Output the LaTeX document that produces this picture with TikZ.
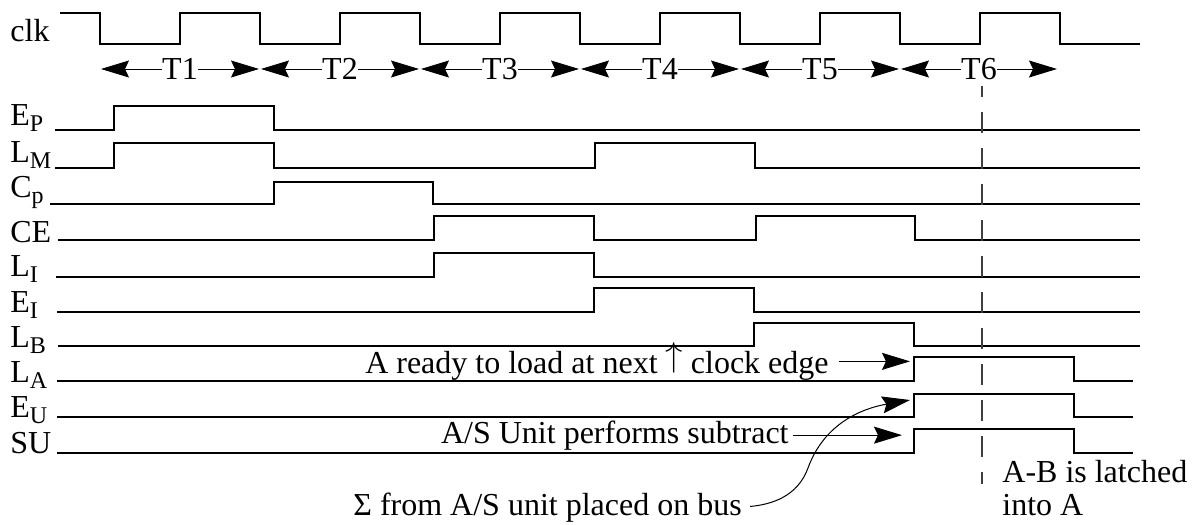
\documentclass[tikz,border=0pt]{standalone}
\usepackage{fontspec}
\setmainfont{Liberation Serif}
\usepackage{tikz}
\usetikzlibrary{arrows.meta, calc}

\newcommand{\lowsub}[1]{\raisebox{-3pt}{\fontsize{12}{12}\selectfont #1}}
\newcommand{\montee}{\raisebox{3.1pt}{$\uparrow$}}

\begin{document}
\begin{tikzpicture}[
  x=0.5pt, y=-0.5pt,
  font=\fontsize{16}{19}\selectfont,
  onde/.style={line width=0.7pt, line join=miter},
  nom/.style={anchor=base west, inner sep=0pt},
  note/.style={inner sep=0pt},
  fleche/.style={
    arrows={-Stealth[length=14pt, width=8.5pt, inset=2pt]},
    line width=0.5pt
  },
  periode/.style={
    arrows={Stealth[length=14pt, width=8.5pt, inset=2pt]-Stealth[length=14pt, width=8.5pt, inset=2pt]},
    line width=0.5pt, shorten <=0.5pt, shorten >=0.5pt
  },
  tlab/.style={fill=white, inner xsep=0pt, inner ysep=1pt},
  repere/.style={line width=0.6pt, draw=black!75,
    dash pattern=on 10.5pt off 7.5pt, dash phase=5pt}
]
\useasboundingbox (0,0) rectangle (1196,525);

% ----- Noms des signaux -----
\node[nom] (clk) at (10,41) {clk};
\node[nom] (ep) at (10,125) {E\lowsub{P}};
\node[nom] (lm) at (10,162) {L\lowsub{M}};
\node[nom] (cp) at (10,197) {C\lowsub{p}};
\node[nom] (ce) at (10,242) {CE};
\node[nom] (li) at (10,276) {L\lowsub{I}};
\node[nom] (ei) at (10,312) {E\lowsub{I}};
\node[nom] (lb) at (10,347) {L\lowsub{B}};
\node[nom] (la) at (10,382) {L\lowsub{A}};
\node[nom] (eu) at (10,417) {E\lowsub{U}};
\node[nom] (su) at (10,453) {SU};

% ----- Horloge -----
\draw[onde] (60,13) -- (100,13) -- (100,44) -- (180,44) -- (180,13)
  -- (260,13) -- (260,44) -- (340,44) -- (340,13)
  -- (420,13) -- (420,44) -- (500,44) -- (500,13)
  -- (580,13) -- (580,44) -- (660,44) -- (660,13)
  -- (740,13) -- (740,44) -- (820,44) -- (820,13)
  -- (900,13) -- (900,44) -- (980,44) -- (980,13)
  -- (1060,13) -- (1060,44) -- (1140,44);

% ----- Etats T1 a T6 -----
\coordinate (t0) at (100,69);
\coordinate (t1) at (260,69);
\coordinate (t2) at (420,69);
\coordinate (t3) at (580,69);
\coordinate (t4) at (740,69);
\coordinate (t5) at (900,69);
\coordinate (t6) at (1058,69);

\draw[periode] (t0) -- node[tlab] {T1} (t1);
\draw[periode] (t1) -- node[tlab] {T2} (t2);
\draw[periode] (t2) -- node[tlab] {T3} (t3);
\draw[periode] (t3) -- node[tlab] {T4} (t4);
\draw[periode] (t4) -- node[tlab] {T5} (t5);
\draw[periode] (t5) -- node[tlab] {T6} (t6);

% ----- Signaux de commande -----
\draw[onde] (55,130) -- (114,130) -- (114,106) -- (274,106) -- (274,130) -- (1140,130);
\draw[onde] (55,168) -- (114,168) -- (114,143) -- (274,143) -- (274,168)
  -- (595,168) -- (595,143) -- (755,143) -- (755,168) -- (1140,168);
\draw[onde] (50,204) -- (274,204) -- (274,182) -- (433,182) -- (433,204) -- (1140,204);
\draw[onde] (58,240) -- (434,240) -- (434,216) -- (594,216) -- (594,240)
  -- (756,240) -- (756,216) -- (915,216) -- (915,240) -- (1140,240);
\draw[onde] (56,277) -- (434,277) -- (434,253) -- (594,253) -- (594,277) -- (1140,277);
\draw[onde] (57,312) -- (594,312) -- (594,288) -- (754,288) -- (754,312) -- (1140,312);
\draw[onde] (58,346) -- (754,346) -- (754,323) -- (914,323) -- (914,346) -- (1140,346);
\draw[onde] (57,381) -- (914,381) -- (914,357) -- (1074,357) -- (1074,381) -- (1133,381);
\draw[onde] (57,417) -- (914,417) -- (914,394) -- (1074,394) -- (1074,417) -- (1133,417);
\draw[onde] (57,453) -- (914,453) -- (914,429) -- (1074,429) -- (1074,453) -- (1133,453);

% ----- Front de chargement -----
\coordinate (dhaut) at (982,86);
\coordinate (dbas) at (982,484);
\draw[repere] (dhaut) -- (dbas);

% ----- Annotations -----
\node[note, anchor=base east] (pret) at (829,373) {A ready to load at next \montee{} clock edge};
\node[note, anchor=base east] (soustr) at (789,443) {A/S Unit performs subtract};
\node[note, anchor=base west] (somme) at (353,515) {Σ from A/S unit placed on bus};
\node[note, anchor=north west, align=left, font=\fontsize{16}{16.5}\selectfont]
  (verrou) at (1002,460) {A-B is latched\\into A};

\coordinate (lapointe) at (910,368);
\coordinate (eupointe) at (910,400);
\coordinate (supointe) at (902,437);
\coordinate (courbe) at (808,468);

\draw[fleche, shorten <=5pt] (pret.east) -- (pret.east -| lapointe);
\draw[fleche, shorten <=2pt] (soustr.east) -- (soustr.east -| supointe);
\draw[fleche, shorten <=4pt] (somme.east) to[out=5, in=250] (courbe)
  to[out=70, in=190] (eupointe);

\end{tikzpicture}
\end{document}
